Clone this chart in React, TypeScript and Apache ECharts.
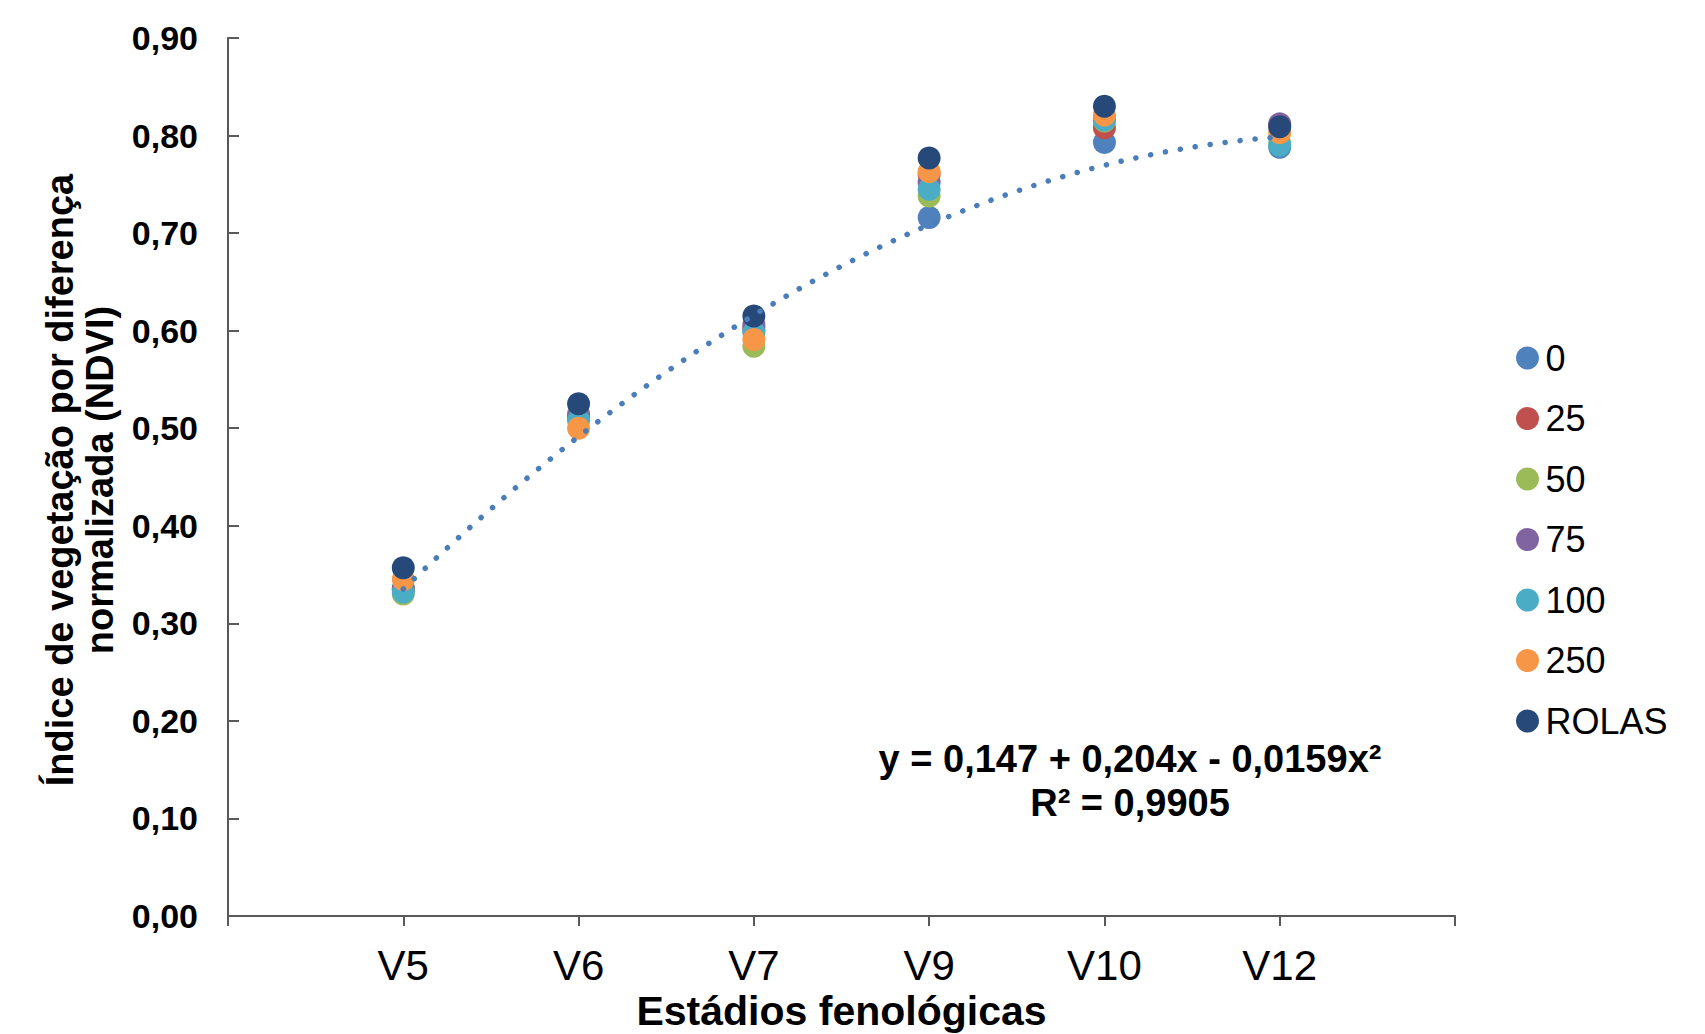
import React, { useEffect, useRef } from "react";
import * as echarts from "echarts";

const stages = ["V5", "V6", "V7", "V9", "V10", "V12"];
const seriesNames = ["0", "25", "50", "75", "100", "250", "ROLAS"];
const colors = ["#4F81BD", "#C0504D", "#9BBB59", "#8064A2", "#4BACC6", "#F79646", "#27497A"];

const s0 = [0.336, 0.51, 0.6, 0.716, 0.793, 0.788];
const s25 = [0.335, 0.512, 0.603, 0.76, 0.808, 0.81];
const s50 = [0.33, 0.515, 0.584, 0.738, 0.815, 0.792];
const s75 = [0.335, 0.513, 0.606, 0.752, 0.818, 0.812];
const s100 = [0.332, 0.508, 0.598, 0.745, 0.816, 0.79];
const s250 = [0.345, 0.5, 0.591, 0.763, 0.821, 0.803];
const sRolas = [0.357, 0.525, 0.615, 0.777, 0.83, 0.809];
const allSeries = [s0, s25, s50, s75, s100, s250, sRolas];

// trendline coefficients shown on the chart: y = a + b x + c x^2
const trendCoef = [0.147, 0.204, -0.0159];
const equationLines = ["y = 0,147 + 0,204x - 0,0159x²", "R² = 0,9905"];
const yTicks = [0, 0.1, 0.2, 0.3, 0.4, 0.5, 0.6, 0.7, 0.8, 0.9];

const FONT = "Liberation Sans, Arial, sans-serif";

export default function App() {
  const ref = useRef<HTMLDivElement>(null);
  useEffect(() => {
    const chart = echarts.init(ref.current!, undefined, { renderer: "svg" });
    const trend: number[][] = [];
    for (let i = 0; i <= 100; i++) {
      const x = 1 + (5 * i) / 100;
      trend.push([x, trendCoef[0] + trendCoef[1] * x + trendCoef[2] * x * x]);
    }
    const scatter = allSeries.map((vals, si) => ({
      name: seriesNames[si],
      type: "scatter",
      symbol: "circle",
      symbolSize: 23,
      itemStyle: { color: colors[si], opacity: 1 },
      data: vals.map((v, i) => [i + 1, v]),
      z: 2 + si,
    }));
    chart.setOption({
      animation: false,
      backgroundColor: "#ffffff",
      textStyle: { fontFamily: FONT },
      grid: { left: 228, right: 250, top: 38, bottom: 118, outerBoundsMode: "none", containLabel: false },
      xAxis: {
        type: "value",
        min: 0,
        max: 7,
        interval: 1,
        splitLine: { show: false },
        axisLine: { show: true, lineStyle: { color: "#595959", width: 2 } },
        axisTick: { show: true, length: 10, lineStyle: { color: "#595959", width: 2 } },
        axisLabel: {
          show: true,
          margin: 28,
          fontSize: 42,
          color: "#000",
          fontFamily: FONT,
          showMinLabel: true,
          showMaxLabel: true,
          formatter: (v: number) => (v >= 1 && v <= 6 ? stages[v - 1] : ""),
        },
        name: "Estádios fenológicas",
        nameLocation: "middle",
        nameGap: 73,
        nameTextStyle: { fontSize: 41, fontWeight: "bold", color: "#000", fontFamily: FONT },
      },
      yAxis: {
        type: "value",
        min: yTicks[0],
        max: yTicks[yTicks.length - 1],
        interval: 0.1,
        splitLine: { show: false },
        axisLine: { show: true, lineStyle: { color: "#595959", width: 2 } },
        axisTick: { show: true, inside: true, length: 11, lineStyle: { color: "#595959", width: 2 } },
        axisLabel: {
          margin: 30,
          fontSize: 34,
          fontWeight: "bold",
          color: "#000",
          fontFamily: FONT,
          formatter: (v: number) => v.toFixed(2).replace(".", ","),
        },
      },
      legend: {
        orient: "vertical",
        left: 1511,
        top: 335,
        itemWidth: 26,
        itemHeight: 23,
        itemGap: 24.5,
        icon: "circle",
        data: seriesNames,
        textStyle: { fontSize: 36, lineHeight: 36, color: "#000", fontFamily: FONT },
      },
      graphic: [
        {
          type: "text",
          rotation: Math.PI / 2,
          x: 60,
          y: 480,
          style: {
            text: "Índice de vegetação por diferença",
            font: "bold 38px " + FONT,
            fill: "#000",
            textAlign: "center",
            textVerticalAlign: "middle",
          },
        },
        {
          type: "text",
          rotation: Math.PI / 2,
          x: 100,
          y: 480,
          style: {
            text: "normalizada (NDVI)",
            font: "bold 38px " + FONT,
            fill: "#000",
            textAlign: "center",
            textVerticalAlign: "middle",
          },
        },
        {
          type: "text",
          x: 1130,
          y: 759,
          style: {
            text: equationLines[0],
            font: "bold 38px " + FONT,
            fill: "#000",
            textAlign: "center",
            textVerticalAlign: "middle",
          },
        },
        {
          type: "text",
          x: 1130,
          y: 803,
          style: {
            text: equationLines[1],
            font: "bold 38px " + FONT,
            fill: "#000",
            textAlign: "center",
            textVerticalAlign: "middle",
          },
        },
      ],
      series: [
        ...scatter,
        {
          name: "trend",
          type: "line",
          data: trend,
          showSymbol: false,
          symbol: "none",
          silent: true,
          z: 20,
          lineStyle: { color: "#4A7EBB", width: 5.5, type: [0.1, 15], cap: "round" },
        },
      ],
    });
    return () => chart.dispose();
  }, []);
  return <div ref={ref} style={{ position: "fixed", left: 0, top: 0, width: 1705, height: 1034 }} />;
}
